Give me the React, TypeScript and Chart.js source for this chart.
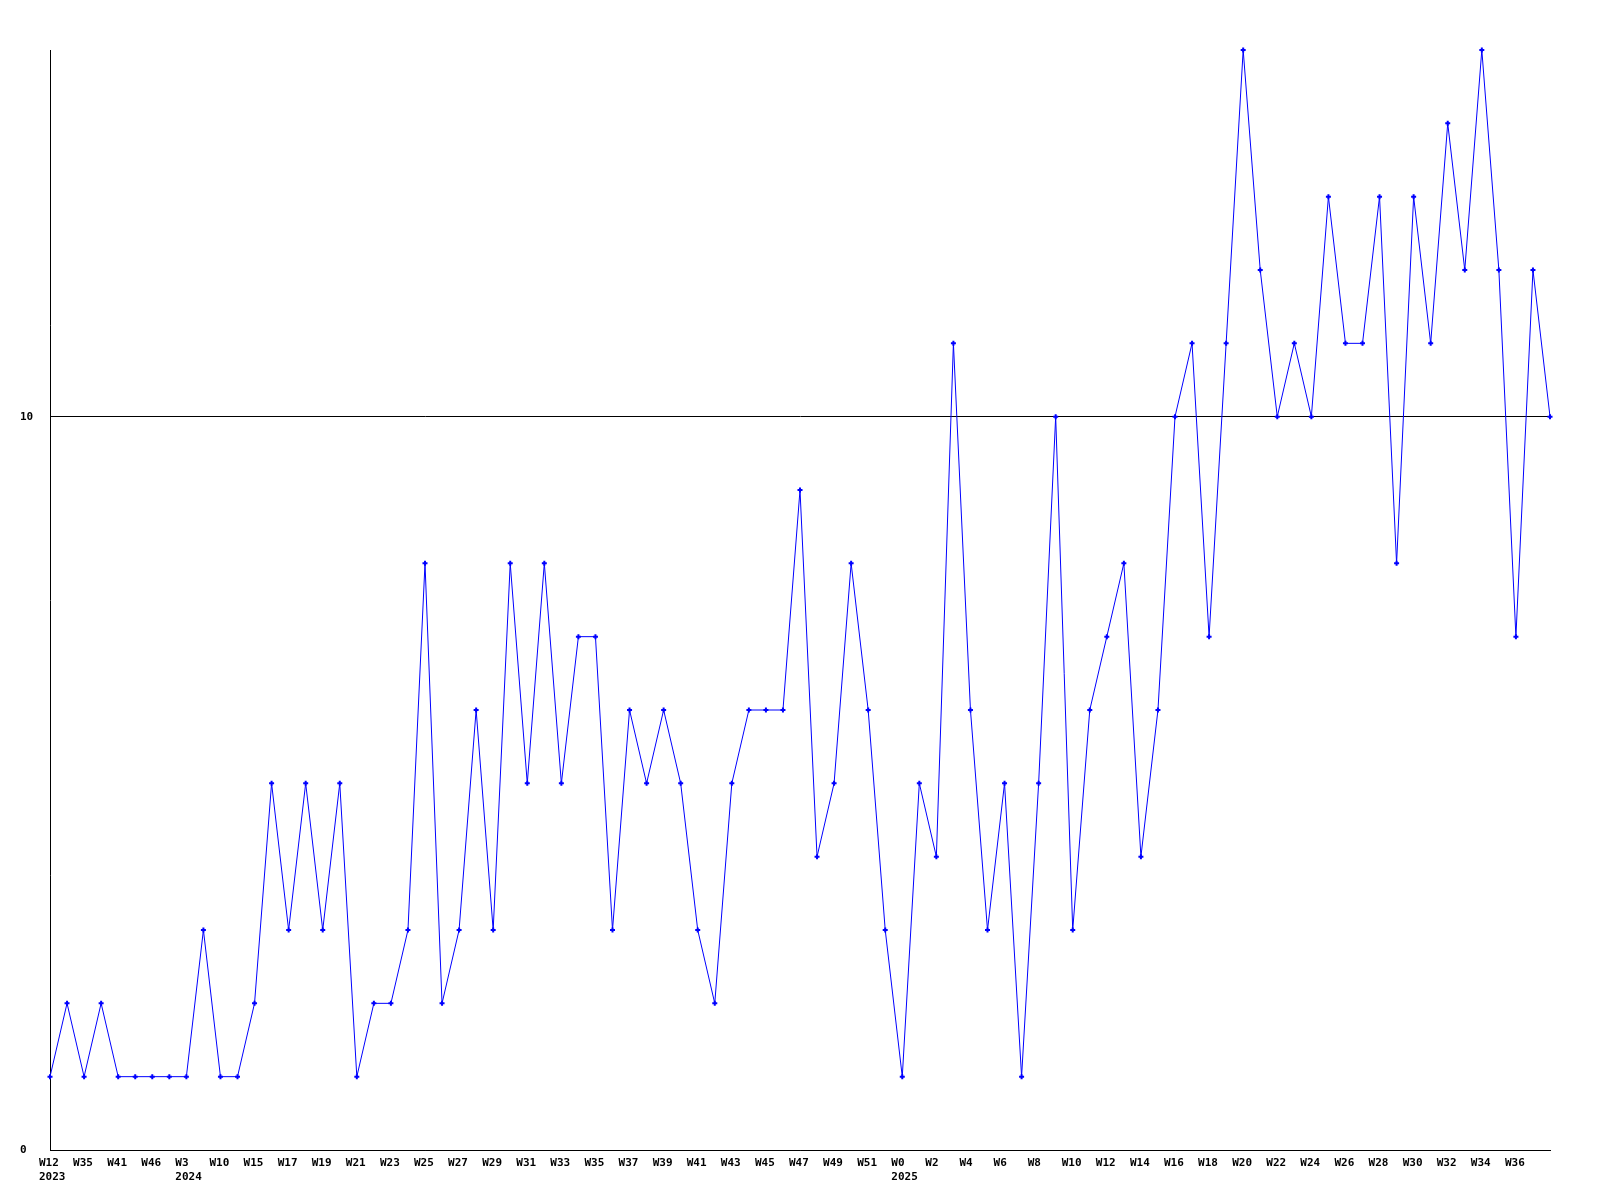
import React, { useEffect, useRef } from "react";
import { Chart, registerables } from "chart.js";

Chart.register(...registerables);

const weeks: string[] = [
  "W12", "W30", "W35", "W38", "W41", "W44", "W46", "W50",
  "W3", "W6", "W10", "W12", "W15", "W16", "W17", "W18", "W19", "W20", "W21", "W22",
  "W23", "W24", "W25", "W26", "W27", "W28", "W29", "W30", "W31", "W32", "W33", "W34",
  "W35", "W36", "W37", "W38", "W39", "W40", "W41", "W42", "W43", "W44", "W45", "W46",
  "W47", "W48", "W49", "W50", "W51", "W52",
  "W0", "W1", "W2", "W3", "W4", "W5", "W6", "W7", "W8", "W9", "W10", "W11", "W12",
  "W13", "W14", "W15", "W16", "W17", "W18", "W19", "W20", "W21", "W22", "W23", "W24",
  "W25", "W26", "W27", "W28", "W29", "W30", "W31", "W32", "W33", "W34", "W35", "W36",
  "W37", "W38",
];

const years: number[] = [
  2023, 2023, 2023, 2023, 2023, 2023, 2023, 2023,
  2024, 2024, 2024, 2024, 2024, 2024, 2024, 2024, 2024, 2024, 2024, 2024,
  2024, 2024, 2024, 2024, 2024, 2024, 2024, 2024, 2024, 2024, 2024, 2024,
  2024, 2024, 2024, 2024, 2024, 2024, 2024, 2024, 2024, 2024, 2024, 2024,
  2024, 2024, 2024, 2024, 2024, 2024,
  2025, 2025, 2025, 2025, 2025, 2025, 2025, 2025, 2025, 2025, 2025, 2025, 2025,
  2025, 2025, 2025, 2025, 2025, 2025, 2025, 2025, 2025, 2025, 2025, 2025,
  2025, 2025, 2025, 2025, 2025, 2025, 2025, 2025, 2025, 2025, 2025, 2025,
  2025, 2025,
];

const values: number[] = [
  1, 2, 1, 2, 1, 1, 1, 1, 1, 3,
  1, 1, 2, 5, 3, 5, 3, 5, 1, 2,
  2, 3, 8, 2, 3, 6, 3, 8, 5, 8,
  5, 7, 7, 3, 6, 5, 6, 5, 3, 2,
  5, 6, 6, 6, 9, 4, 5, 8, 6, 3,
  1, 5, 4, 11, 6, 3, 5, 1, 5, 10,
  3, 6, 7, 8, 4, 6, 10, 11, 7, 11,
  15, 12, 10, 11, 10, 13, 11, 11, 13, 8,
  13, 11, 14, 12, 15, 12, 7, 12, 10,
];

const yTicks: number[] = [0, 10];

export default function App() {
  const canvasRef = useRef<HTMLCanvasElement | null>(null);

  useEffect(() => {
    const canvas = canvasRef.current;
    if (!canvas) return;
    const font = { family: "'DejaVu Sans Mono', monospace", size: 11, weight: "bold" as const, lineHeight: 1.3 };
    const chart = new Chart(canvas, {
      type: "line",
      data: {
        labels: weeks,
        datasets: [
          {
            data: values,
            borderColor: "#0000ff",
            backgroundColor: "#0000ff",
            borderWidth: 1,
            pointStyle: "cross",
            pointRadius: 2.5,
            pointBorderWidth: 2,
            pointBorderColor: "#0000ff",
            tension: 0,
            fill: false,
            clip: false,
          },
        ],
      },
      options: {
        animation: false,
        responsive: false,
        devicePixelRatio: 1,
        layout: { padding: { left: 20, right: 50, top: 50, bottom: 0 } },
        plugins: { legend: { display: false }, tooltip: { enabled: false }, title: { display: false } },
        scales: {
          x: {
            type: "category",
            offset: false,
            grid: { display: false, drawTicks: false },
            border: { display: true, color: "#000000", width: 1 },
            afterFit: (scale: any) => {
              scale.height = 50;
            },
            ticks: {
              autoSkip: false,
              maxRotation: 0,
              minRotation: 0,
              align: "start",
              labelOffset: -11,
              padding: 6,
              color: "#000000",
              font,
              callback: (_v: any, i: number) => {
                if (i % 2 !== 0 || i === weeks.length - 1) return null;
                if (i === 0 || years[i] !== years[i - 1]) return [weeks[i], String(years[i])];
                return weeks[i];
              },
            },
          },
          y: {
            min: 0,
            max: 15,
            grid: { display: true, color: "#000000", lineWidth: 1, drawTicks: false },
            border: { display: true, color: "#000000", width: 1 },
            afterBuildTicks: (scale: any) => {
              scale.ticks = yTicks.map((v) => ({ value: v }));
            },
            afterFit: (scale: any) => {
              scale.width = 30;
            },
            ticks: {
              crossAlign: "far",
              padding: 0,
              color: "#000000",
              font,
            },
          },
        },
      },
    });
    return () => chart.destroy();
  }, []);

  return (
    <div style={{ position: "absolute", left: 0, top: 0, width: 1600, height: 1200, background: "#ffffff" }}>
      <canvas ref={canvasRef} width={1600} height={1200} style={{ display: "block", width: 1600, height: 1200 }} />
    </div>
  );
}
